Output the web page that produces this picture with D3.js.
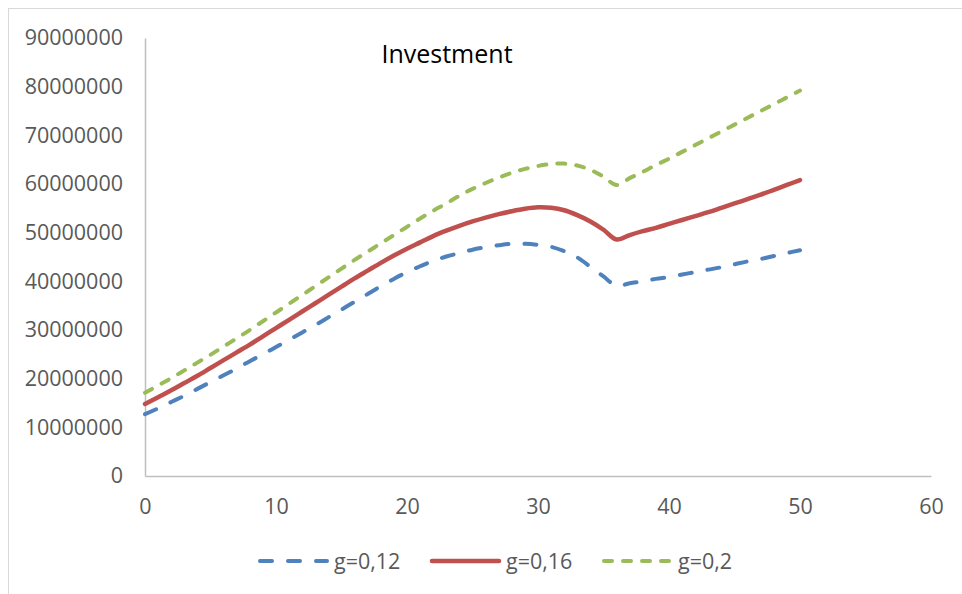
<!DOCTYPE html>
<html>
<head>
<meta charset="utf-8">
<script src="https://cdn.jsdelivr.net/npm/d3@7/dist/d3.min.js"></script>
<style>
  html, body { margin: 0; padding: 0; background: #fff; }
  svg { display: block; }
  text { font-family: "Open Sans", sans-serif; fill: #595959; }
</style>
</head>
<body>
<svg id="chart" width="962" height="594"></svg>
<script>
// Years of the projection
const years = d3.range(0, 51);

// Investment paths for three growth rates (values in currency units)
const invest012 = [
  12.7, 13.9, 15.2, 16.5, 17.9, 19.3, 20.7, 22.1, 23.6, 25.0,
  26.5, 28.0, 29.5, 31.0, 32.6, 34.2, 35.8, 37.4, 39.0, 40.5,
  41.9, 43.1, 44.2, 45.1, 45.8, 46.5, 47.0, 47.4, 47.7, 47.7,
  47.5, 47.1, 46.2, 44.9, 43.0, 41.0, 39.1, 39.6, 40.0, 40.5,
  40.9, 41.4, 41.9, 42.4, 42.9, 43.5, 44.1, 44.6, 45.2, 45.8, 46.4
].map(v => v * 1e6);

const invest016 = [
  14.8, 16.2, 17.6, 19.1, 20.6, 22.2, 23.8, 25.4, 27.0, 28.7,
  30.4, 32.1, 33.8, 35.5, 37.2, 38.9, 40.6, 42.2, 43.8, 45.3,
  46.7, 48.0, 49.3, 50.4, 51.4, 52.3, 53.1, 53.8, 54.4, 54.9,
  55.2, 55.1, 54.6, 53.6, 52.3, 50.6, 48.6, 49.5, 50.3, 51.0,
  51.8, 52.6, 53.4, 54.2, 55.1, 56.0, 56.9, 57.8, 58.8, 59.8, 60.8
].map(v => v * 1e6);

const invest020 = [
  17.1, 18.6, 20.1, 21.7, 23.3, 24.9, 26.6, 28.3, 30.0, 31.8,
  33.6, 35.4, 37.2, 39.0, 40.8, 42.6, 44.4, 46.1, 47.8, 49.5,
  51.2, 52.9, 54.5, 56.0, 57.6, 59.0, 60.2, 61.3, 62.3, 63.1,
  63.7, 64.1, 64.2, 63.8, 62.9, 61.5, 59.8, 61.2, 62.5, 63.9,
  65.2, 66.6, 68.0, 69.4, 70.8, 72.2, 73.6, 75.0, 76.4, 77.8, 79.2
].map(v => v * 1e6);

const seriesNames = ["g=0,12", "g=0,16", "g=0,2"];
const xTicks = [0, 10, 20, 30, 40, 50, 60];
const yTicks = [0, 10000000, 20000000, 30000000, 40000000, 50000000,
                60000000, 70000000, 80000000, 90000000];

const series = [
  { name: seriesNames[0], values: invest012, color: "#4F81BD", dash: "12,16", width: 4 },
  { name: seriesNames[1], values: invest016, color: "#C0504D", dash: null,    width: 4.5 },
  { name: seriesNames[2], values: invest020, color: "#9BBB59", dash: "8,11",  width: 4 }
];

const svg = d3.select("#chart");

// outer chart frame
svg.append("rect")
  .attr("x", 8.5).attr("y", 8.5)
  .attr("width", 980).attr("height", 600)
  .attr("fill", "#fff")
  .attr("stroke", "#D9D9D9").attr("stroke-width", 1);

const x = d3.scaleLinear().domain([0, 60]).range([145, 931]);
const y = d3.scaleLinear().domain([0, 90000000]).range([476, 38]);

// y axis labels + line
const yAxis = d3.axisLeft(y).tickValues(yTicks).tickSize(0).tickPadding(22)
  .tickFormat(d3.format("d"));
const gy = svg.append("g").attr("transform", `translate(${x(0)},0)`).call(yAxis);
gy.select(".domain").attr("stroke", "#BFBFBF").attr("stroke-width", 1.5);
gy.selectAll("text").style("font-size", "21.5px").attr("fill", "#595959");

// x axis labels + line
const xAxis = d3.axisBottom(x).tickValues(xTicks).tickSize(0).tickPadding(23)
  .tickFormat(d3.format("d"));
const gx = svg.append("g").attr("transform", `translate(0,${y(0)})`).call(xAxis);
gx.select(".domain").attr("stroke", "#BFBFBF").attr("stroke-width", 1.5);
gx.selectAll("text").style("font-size", "21.5px").attr("fill", "#595959");

// title
svg.append("text")
  .attr("x", 447).attr("y", 63)
  .attr("text-anchor", "middle")
  .style("font-size", "25px")
  .style("fill", "#000")
  .text("Investment");

// lines
const line = d3.line()
  .x((d, i) => x(years[i]))
  .y(d => y(d))
  .curve(d3.curveCatmullRom.alpha(0.5));

series.forEach(s => {
  svg.append("path")
    .datum(s.values)
    .attr("fill", "none")
    .attr("stroke", s.color)
    .attr("stroke-width", s.width)
    .attr("stroke-linecap", "round")
    .attr("stroke-linejoin", "round")
    .attr("stroke-dasharray", s.dash)
    .attr("d", line);
});

// legend
const legendX = [258, 430, 602];
const legend = svg.append("g");
series.forEach((s, i) => {
  const g = legend.append("g").attr("transform", `translate(${legendX[i]},561)`);
  g.append("line")
    .attr("x1", 2).attr("x2", 69)
    .attr("y1", 0).attr("y2", 0)
    .attr("stroke", s.color)
    .attr("stroke-width", s.width)
    .attr("stroke-linecap", "round")
    .attr("stroke-dasharray", s.dash);
  g.append("text")
    .attr("x", 76).attr("y", 8)
    .style("font-size", "21.5px")
    .text(s.name);
});
</script>
</body>
</html>
